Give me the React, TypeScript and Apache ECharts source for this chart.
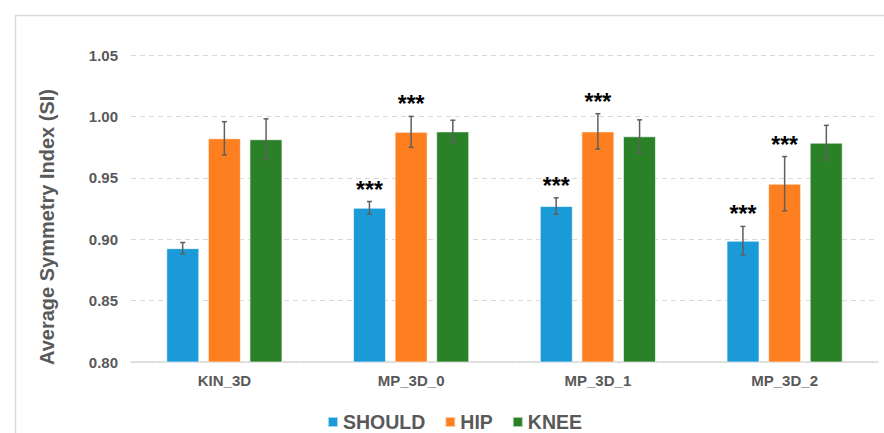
import React, { useEffect, useRef } from "react";
import * as echarts from "echarts";

const categories = ["KIN_3D", "MP_3D_0", "MP_3D_1", "MP_3D_2"];
const seriesNames = ["SHOULD", "HIP", "KNEE"];
const shouldMeans = [0.8927, 0.9256, 0.927, 0.8988];
const hipMeans = [0.9822, 0.9874, 0.9878, 0.9452];
const kneeMeans = [0.9814, 0.9878, 0.9838, 0.9786];
const shouldErr = [0.0046, 0.0051, 0.0067, 0.0116];
const hipErr = [0.0135, 0.0126, 0.0144, 0.0221];
const kneeErr = [0.0166, 0.0091, 0.0134, 0.0141];
const shouldSig = [false, true, true, true];
const hipSig = [false, true, true, true];
const kneeSig = [false, false, false, false];
const yTicks = [0.8, 0.85, 0.9, 0.95, 1.0, 1.05];
const yAxisTitle = "Average Symmetry Index (SI)";

const colors = ["#1a9bd7", "#fd7f20", "#2a8128"];
const FONT = "'Liberation Sans', Arial, sans-serif";
const BAR_W = 33;
const BAR_STEP = 41.7;

export default function App() {
  const ref = useRef<HTMLDivElement>(null);
  useEffect(() => {
    if (!ref.current) return;
    const chart = echarts.init(ref.current, null, { renderer: "svg" });
    const means = [shouldMeans, hipMeans, kneeMeans];
    const errs = [shouldErr, hipErr, kneeErr];
    const sigs = [shouldSig, hipSig, kneeSig];
    const errData: any[] = [];
    means.forEach((m, s) => {
      m.forEach((v, c) => {
        errData.push([c, v, errs[s][c], s, sigs[s][c] ? 1 : 0]);
      });
    });
    const barSeries = seriesNames.map((name, i) => ({
      name,
      type: "bar",
      data: means[i],
      barWidth: BAR_W,
      barGap: "26%",
      itemStyle: { color: colors[i], borderColor: "rgba(255,255,255,0.6)", borderWidth: 1 },
      z: 2,
    }));
    chart.setOption({
      animation: false,
      color: colors,
      graphic: [
        {
          type: "rect",
          left: 13,
          top: 13,
          shape: { width: 900, height: 500 },
          style: { fill: "none", stroke: "#d9d9d9", lineWidth: 1.5 },
          silent: true,
          z: -10,
        },
        {
          type: "text",
          x: 47,
          y: 227,
          rotation: Math.PI / 2,
          style: {
            text: yAxisTitle,
            fontFamily: FONT,
            fontSize: 20,
            fontWeight: "bold",
            fill: "#595959",
            align: "center",
            verticalAlign: "middle",
          },
          silent: true,
        },
      ],
      grid: { left: 131, right: 6, top: 55, bottom: 71 },
      legend: {
        data: seriesNames,
        top: 412,
        left: 327,
        padding: 0,
        icon: "rect",
        itemWidth: 10,
        itemHeight: 10,
        itemGap: 19,
        textStyle: { fontFamily: FONT, fontSize: 19.5, fontWeight: "bold", color: "#595959" },
      },
      xAxis: {
        type: "category",
        data: categories,
        axisLine: { lineStyle: { color: "#d9d9d9", width: 1.5 } },
        axisTick: { show: false },
        axisLabel: { fontFamily: FONT, fontSize: 15, fontWeight: "bold", color: "#595959", margin: 11 },
      },
      yAxis: {
        type: "value",
        min: yTicks[0],
        max: yTicks[yTicks.length - 1],
        interval: 0.05,
        axisLine: { show: false },
        axisTick: { show: false },
        splitLine: { lineStyle: { color: "#d9d9d9", type: [5, 4], width: 1 } },
        axisLabel: {
          fontFamily: FONT,
          fontSize: 15,
          fontWeight: "bold",
          color: "#595959",
          margin: 13,
          formatter: (v: number) => v.toFixed(2),
        },
      },
      series: [
        ...barSeries,
        {
          type: "custom",
          name: "err",
          data: errData,
          z: 5,
          renderItem: (params: any, api: any) => {
            const c = api.value(0);
            const v = api.value(1);
            const e = api.value(2);
            const s = api.value(3);
            const sig = api.value(4);
            const off = (s - 1) * BAR_STEP;
            const top = api.coord([c, v + e]);
            const bot = api.coord([c, v - e]);
            const x = top[0] + off;
            const cap = 2.5;
            const st = { stroke: "#5f5f5f", lineWidth: 1.5 };
            const children: any[] = [
              { type: "line", shape: { x1: x, y1: top[1], x2: x, y2: bot[1] }, style: st },
              { type: "line", shape: { x1: x - cap, y1: top[1], x2: x + cap, y2: top[1] }, style: st },
              { type: "line", shape: { x1: x - cap, y1: bot[1], x2: x + cap, y2: bot[1] }, style: st },
            ];
            if (sig) {
              children.push({
                type: "text",
                x: x,
                y: top[1] - 0.5,
                style: {
                  text: "***",
                  fontFamily: FONT,
                  fontSize: 23,
                  fontWeight: "bold",
                  fill: "#000000",
                  align: "center",
                  verticalAlign: "bottom",
                },
              });
            }
            return { type: "group", children };
          },
        },
      ],
    });
    return () => chart.dispose();
  }, []);
  return (
    <div
      ref={ref}
      style={{ position: "absolute", left: 0, top: 0, width: 884, height: 433, background: "#fff" }}
    />
  );
}
